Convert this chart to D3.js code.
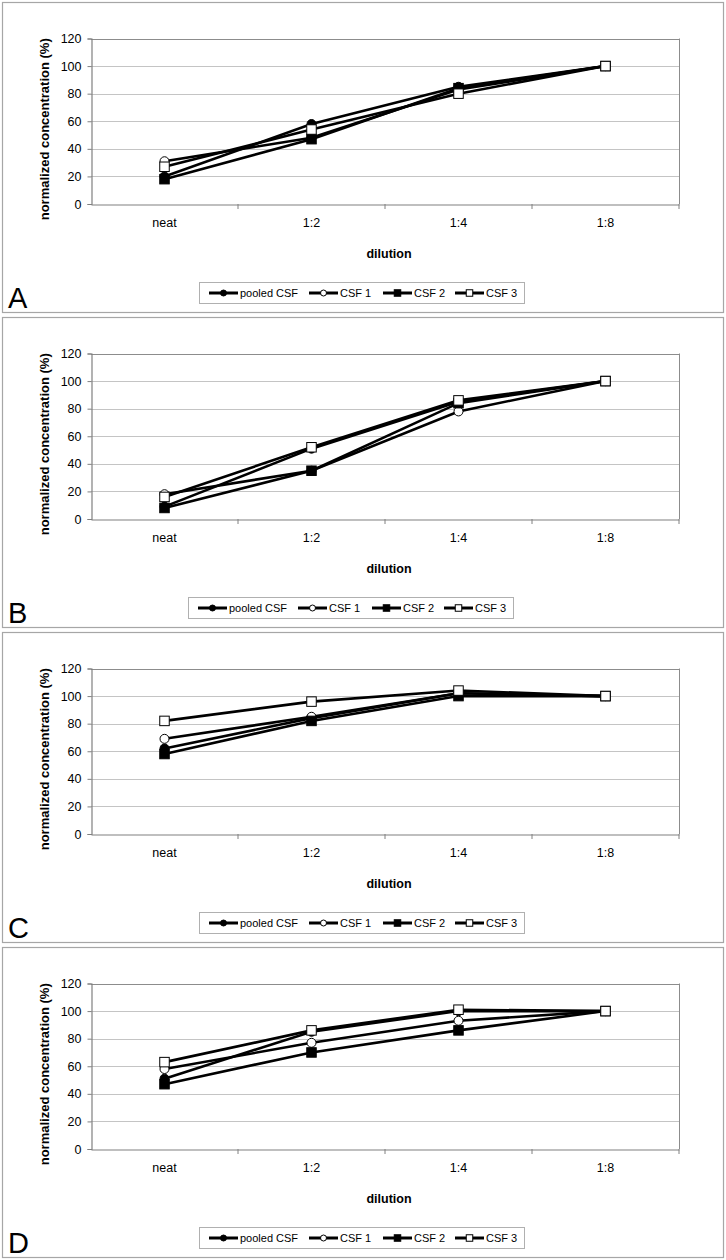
<!DOCTYPE html>
<html>
<head>
<meta charset="utf-8">
<script src="https://cdnjs.cloudflare.com/ajax/libs/d3/7.8.5/d3.min.js"></script>
<style>
  body { margin: 0; background: #fff; }
  svg text { font-family: "Liberation Sans", Arial, sans-serif; }
</style>
</head>
<body>
<div id="chart"></div>
<script>
// values (normalized concentration, %)
var categories = ["neat", "1:2", "1:4", "1:8"];
var seriesNames = ["pooled CSF", "CSF 1", "CSF 2", "CSF 3"];
var panelLabels = ["A", "B", "C", "D"];
var yTicks = [0, 20, 40, 60, 80, 100, 120];

var pooledA = [20, 58, 85, 100];
var csf1A = [31, 48, 83, 100];
var csf2A = [18, 47, 84, 100];
var csf3A = [27, 54, 80, 100];

var pooledB = [9, 51, 85, 100];
var csf1B = [18, 35, 78, 100];
var csf2B = [8, 35, 84, 100];
var csf3B = [16, 52, 86, 100];

var pooledC = [62, 84, 102, 100];
var csf1C = [69, 85, 102, 100];
var csf2C = [58, 82, 100, 100];
var csf3C = [82, 96, 104, 100];

var pooledD = [51, 85, 100, 100];
var csf1D = [58, 77, 93, 100];
var csf2D = [47, 70, 86, 100];
var csf3D = [63, 86, 101, 100];

var panels = [
    [pooledA, csf1A, csf2A, csf3A],
    [pooledB, csf1B, csf2B, csf3B],
    [pooledC, csf1C, csf2C, csf3C],
    [pooledD, csf1D, csf2D, csf3D]
];

// marker style per series: circle/square, filled or open
var markerShape = ["circle", "circle", "square", "square"];
var markerFill = ["#000", "#fff", "#000", "#fff"];

var W = 726, H = 1260;
var panelH = 311, panelGap = 4, panelTop0 = 2;
var plotLeft = 91, plotRight = 679, plotTop = 36.5, plotBottom = 202;
var legendShift = [0, -11, 0, 0];

var svg = d3.select("#chart").append("svg")
    .attr("width", W)
    .attr("height", H);

var x = d3.scaleBand().domain(categories).range([plotLeft, plotRight]);
var y = d3.scaleLinear().domain([0, 120]).range([plotBottom, plotTop]);

function drawMarker(g, shape, fill, cx, cy, size) {
    if (shape == "circle") {
        g.append("circle")
            .attr("cx", cx).attr("cy", cy).attr("r", size / 2)
            .style("fill", fill).style("stroke", "#000").style("stroke-width", 1);
    } else {
        g.append("rect")
            .attr("x", cx - size / 2).attr("y", cy - size / 2)
            .attr("width", size).attr("height", size)
            .style("fill", fill).style("stroke", "#000").style("stroke-width", 1);
    }
}

panels.forEach(function (series, p) {
    var top = panelTop0 + p * (panelH + panelGap);
    var g = svg.append("g").attr("transform", "translate(0," + top + ")");

    // outer frame
    g.append("rect")
        .attr("x", 2.5).attr("y", 0.5)
        .attr("width", W - 5).attr("height", panelH - 1)
        .style("fill", "#fff").style("stroke", "#a6a6a6").style("stroke-width", 1.2);

    // gridlines
    g.selectAll(".grid").data(yTicks.slice(1)).enter().append("line")
        .attr("x1", plotLeft).attr("x2", plotRight)
        .attr("y1", function (d) { return Math.round(y(d)) + 0.5; })
        .attr("y2", function (d) { return Math.round(y(d)) + 0.5; })
        .style("stroke", function (d) { return d == 120 ? "#8c8c8c" : "#c4c4c4"; })
        .style("stroke-width", 1.2);

    // right border of plot area
    g.append("line")
        .attr("x1", plotRight + 0.5).attr("x2", plotRight + 0.5)
        .attr("y1", plotTop).attr("y2", plotBottom)
        .style("stroke", "#8c8c8c");

    // y axis
    var yAxis = g.append("g")
        .attr("transform", "translate(" + (plotLeft + 0.5) + ",0)")
        .call(d3.axisLeft(y).tickValues(yTicks).tickSize(4).tickPadding(6));
    // x axis, ticks at band edges
    var xAxis = g.append("g")
        .attr("transform", "translate(0," + (Math.round(plotBottom) + 0.5) + ")")
        .call(d3.axisBottom(x).tickSize(0).tickPadding(14));
    [yAxis, xAxis].forEach(function (a) {
        a.select(".domain").style("stroke", "#808080").style("stroke-width", 1.2);
        a.selectAll(".tick line").style("stroke", "#808080");
        a.selectAll("text").style("font-size", "12.5px").style("fill", "#000")
            .style("font-family", "'Liberation Sans', Arial, sans-serif");
    });
    g.selectAll(".xtick").data(categories.slice(1).concat(["end"])).enter().append("line")
        .attr("x1", function (d, i) { return x(categories[i]) + x.bandwidth(); })
        .attr("x2", function (d, i) { return x(categories[i]) + x.bandwidth(); })
        .attr("y1", Math.round(plotBottom)).attr("y2", Math.round(plotBottom) + 5)
        .style("stroke", "#808080");

    // axis titles
    g.append("text")
        .attr("transform", "translate(49," + ((plotTop + plotBottom) / 2 + 8) + ") rotate(-90)")
        .attr("text-anchor", "middle")
        .style("font-size", "13px").style("font-weight", "bold")
        .text("normalized concentration (%)");
    g.append("text")
        .attr("x", (plotLeft + plotRight) / 2 + 4).attr("y", 256)
        .attr("text-anchor", "middle")
        .style("font-size", "12.5px").style("font-weight", "bold")
        .text("dilution");

    // series lines then markers
    var line = d3.line()
        .x(function (d, i) { return x(categories[i]) + x.bandwidth() / 2; })
        .y(function (d) { return y(d); });
    series.forEach(function (vals, s) {
        var sg = g.append("g");
        sg.append("path")
            .attr("d", line(vals))
            .style("fill", "none").style("stroke", "#000").style("stroke-width", 2.6);
        vals.forEach(function (v, i) {
            drawMarker(sg, markerShape[s], markerFill[s],
                x(categories[i]) + x.bandwidth() / 2, y(v),
                markerShape[s] == "circle" ? 9 : 9.5);
        });
    });

    // legend
    var lg = g.append("g").attr("transform", "translate(" + legendShift[p] + ",0)");
    lg.append("rect")
        .attr("x", 199.5).attr("y", 280.5).attr("width", 325).attr("height", 21)
        .style("fill", "#fff").style("stroke", "#b0b0b0");
    var itemX = [209, 309, 383, 455];
    seriesNames.forEach(function (name, s) {
        var lx = itemX[s], ly = 291;
        lg.append("line")
            .attr("x1", lx).attr("x2", lx + 29).attr("y1", ly).attr("y2", ly)
            .style("stroke", "#000").style("stroke-width", 3);
        drawMarker(lg, markerShape[s], markerFill[s], lx + 14.5, ly, markerShape[s] == "circle" ? 6 : 6.5);
        lg.append("text")
            .attr("x", lx + 31).attr("y", ly + 4)
            .style("font-size", "11px")
            .text(name);
    });

    // panel letter
    g.append("text")
        .attr("x", 8).attr("y", 306)
        .style("font-size", "29px")
        .text(panelLabels[p]);
});
</script>
</body>
</html>
